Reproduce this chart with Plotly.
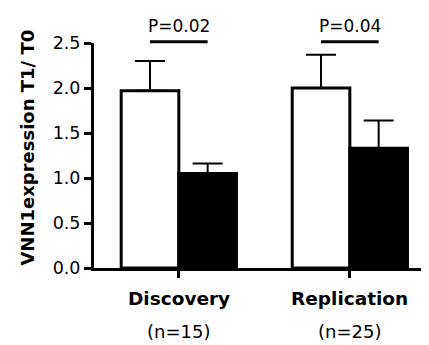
import plotly.graph_objects as go

categories = ["Discovery", "Replication"]
sample_sizes = ["(n=15)", "(n=25)"]
t1_white = [1.97, 2.00]
t1_white_err = [0.33, 0.37]
t0_black = [1.05, 1.33]
t0_black_err = [0.11, 0.31]
p_values = ["P=0.02", "P=0.04"]
y_ticks = [0.0, 0.5, 1.0, 1.5, 2.0, 2.5]

pos = [1, 2]
w = 0.337
FONT = "DejaVu Sans"

fig = go.Figure()
fig.add_trace(go.Bar(
    x=[p - w / 2 for p in pos], y=t1_white, width=w,
    marker=dict(color="white", line=dict(color="black", width=3)),
    error_y=dict(type="data", array=t1_white_err, arrayminus=[0, 0], symmetric=False,
                 color="black", thickness=2, width=15),
    showlegend=False,
))
fig.add_trace(go.Bar(
    x=[p + w / 2 for p in pos], y=t0_black, width=w,
    marker=dict(color="black", line=dict(color="black", width=3)),
    error_y=dict(type="data", array=t0_black_err, arrayminus=[0, 0], symmetric=False,
                 color="black", thickness=2, width=15),
    showlegend=False,
))

for p, cat, n, pv in zip(pos, categories, sample_sizes, p_values):
    fig.add_shape(type="line", xref="x", yref="paper",
                  x0=p - w / 2, x1=p + w / 2, y0=1.006, y1=1.006,
                  line=dict(color="black", width=3))
    fig.add_annotation(x=p, y=1.0756, xref="x", yref="paper", text=pv,
                       showarrow=False, xanchor="center", yanchor="middle",
                       font=dict(family=FONT, size=17, color="black"))
    fig.add_annotation(x=p, y=-0.136, xref="x", yref="paper", text="<b>" + cat + "</b>",
                       showarrow=False, xanchor="center", yanchor="middle",
                       font=dict(family=FONT, size=18.5, color="black"))
    fig.add_annotation(x=p, y=-0.284, xref="x", yref="paper", text=n,
                       showarrow=False, xanchor="center", yanchor="middle",
                       font=dict(family=FONT, size=18, color="black"))

fig.add_annotation(x=-0.199, y=0.533, xref="paper", yref="paper",
                   text="<b>VNN1expression T1/ T0</b>", textangle=-90,
                   showarrow=False, xanchor="center", yanchor="middle",
                   font=dict(family=FONT, size=18, color="black"))

fig.update_layout(
    width=421, height=337,
    margin=dict(l=86, r=1, t=35, b=77),
    paper_bgcolor="white", plot_bgcolor="white",
    barmode="overlay",
    xaxis=dict(range=[0.504, 2.457], tickvals=pos, ticktext=["", ""],
               showticklabels=False, ticks="outside", ticklen=7, tickwidth=2.5,
               tickcolor="black", showline=True, linecolor="black", linewidth=3,
               showgrid=False, zeroline=False),
    yaxis=dict(range=[0, 2.5], tickvals=y_ticks,
               ticktext=[f"{v:.1f}" for v in y_ticks],
               ticks="outside", ticklen=7, tickwidth=2.5, tickcolor="black",
               showline=True, linecolor="black", linewidth=3,
               showgrid=False, zeroline=False,
               tickfont=dict(family=FONT, size=17.5, color="black")),
)

fig.write_html("out.html")
